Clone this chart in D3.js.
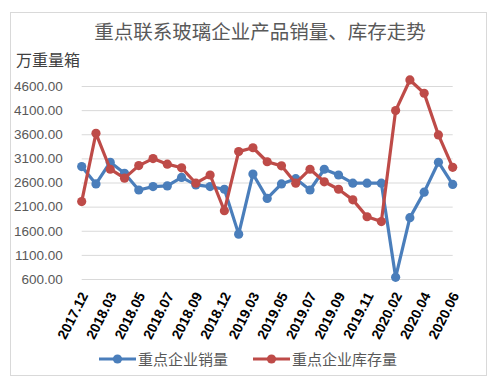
<!DOCTYPE html>
<html>
<head>
<meta charset="utf-8">
<script src="https://cdn.jsdelivr.net/npm/d3@7"></script>
<style>
  body { margin: 0; background: #fff; }
  svg { display: block; }
</style>
</head>
<body>
<svg id="chart"></svg>
<script>
// months as shown on the axis (jan+feb are reported together)
const months = [
  "2017.12", "2018.02", "2018.03", "2018.04", "2018.05", "2018.06", "2018.07",
  "2018.08", "2018.09", "2018.10", "2018.12", "2019.02", "2019.03", "2019.04",
  "2019.05", "2019.06", "2019.07", "2019.08", "2019.09", "2019.10", "2019.11",
  "2019.12", "2020.02", "2020.03", "2020.04", "2020.05", "2020.06"
]
const shownLabels = [
  "2017.12", "2018.03", "2018.05", "2018.07", "2018.09", "2018.12", "2019.03",
  "2019.05", "2019.07", "2019.09", "2019.11", "2020.02", "2020.04", "2020.06"
]
const sales = [
  2930, 2570, 3020, 2790, 2445, 2515, 2530, 2705, 2550, 2515, 2460, 1530, 2775,
  2270, 2570, 2680, 2445, 2875, 2755, 2585, 2585, 2585, 635, 1870, 2400, 3020, 2560
]
const stock = [
  2205, 3620, 2875, 2690, 2950, 3095, 2980, 2905, 2585, 2755, 2015, 3240, 3320,
  3030, 2945, 2585, 2875, 2615, 2460, 2240, 1890, 1790, 4090, 4725, 4450, 3585, 2915
]
const yTicks = [600, 1100, 1600, 2100, 2600, 3100, 3600, 4100, 4600]

const seriesNames = ["重点企业销量", "重点企业库存量"]
const seriesColors = ["#4a7ebb", "#be4b48"]

const W = 496, H = 388
const margin = { left: 81.7, right: 43.3, top: 86, bottom: 109 }

const svg = d3.select("#chart").attr("width", W).attr("height", H)

svg.append("rect")
  .attr("x", 10.5).attr("y", 12.5)
  .attr("width", 476).attr("height", 363)
  .attr("fill", "#fff").attr("stroke", "#d9d9d9")

const x = d3.scalePoint()
  .domain(months)
  .range([margin.left, W - margin.right])
  .padding(0)

const y = d3.scaleLinear()
  .domain([600, 4600])
  .range([H - margin.bottom, margin.top])

// title + unit
svg.append("text")
  .attr("x", 260).attr("y", 39)
  .attr("text-anchor", "middle")
  .attr("font-family", "Noto Sans CJK SC")
  .attr("font-size", 19.5)
  .attr("fill", "#595959")
  .text("重点联系玻璃企业产品销量、库存走势")

svg.append("text")
  .attr("x", 16).attr("y", 66)
  .attr("font-family", "Noto Sans CJK SC")
  .attr("font-size", 16)
  .attr("fill", "#404040")
  .text("万重量箱")

// gridlines + y labels
const yAxis = d3.axisLeft(y)
  .tickValues(yTicks)
  .tickSize(-(W - margin.left - margin.right))
  .tickPadding(19)
  .tickFormat(d3.format(".2f"))

const gy = svg.append("g")
  .attr("transform", "translate(" + margin.left + ",0)")
  .call(yAxis)
gy.select(".domain").remove()
gy.selectAll("line").attr("stroke", "#d9d9d9").attr("stroke-width", 1)
gy.selectAll("text")
  .attr("font-family", "Liberation Sans, Arial")
  .attr("font-size", 13.5)
  .attr("fill", "#595959")

// x labels, rotated
const xAxis = d3.axisBottom(x)
  .tickValues(shownLabels)
  .tickSize(0)
  .tickPadding(0)

const gx = svg.append("g")
  .attr("transform", "translate(0," + (H - margin.bottom) + ")")
  .call(xAxis)
gx.select(".domain").remove()
gx.selectAll("text")
  .attr("font-family", "Liberation Sans, Arial")
  .attr("font-size", 14)
  .attr("font-weight", "bold")
  .attr("fill", "#000")
  .attr("text-anchor", "end")
  .attr("dy", "0.35em")
  .attr("transform", "translate(2,14) rotate(-63)")

/*
  Lines + markers
*/
const line = d3.line()
  .x((d, i) => x(months[i]))
  .y((d) => y(d))

;[sales, stock].forEach((values, k) => {
  const g = svg.append("g")
  g.append("path")
    .datum(values)
    .attr("d", line)
    .attr("fill", "none")
    .attr("stroke", seriesColors[k])
    .attr("stroke-width", 3.2)
    .attr("stroke-linejoin", "round")
  g.selectAll("circle")
    .data(values)
    .enter()
    .append("circle")
    .attr("cx", (d, i) => x(months[i]))
    .attr("cy", (d) => y(d))
    .attr("r", 4.6)
    .attr("fill", seriesColors[k])
})

// legend
const legendX = [99, 253]
seriesNames.forEach((name, k) => {
  const g = svg.append("g").attr("transform", "translate(" + legendX[k] + ",359)")
  g.append("line")
    .attr("x1", 0).attr("x2", 37)
    .attr("stroke", seriesColors[k]).attr("stroke-width", 3.2)
  g.append("circle").attr("cx", 18.5).attr("r", 4.6).attr("fill", seriesColors[k])
  g.append("text")
    .attr("x", 39).attr("y", 5.5)
    .attr("font-family", "Noto Sans CJK SC")
    .attr("font-size", 15)
    .attr("fill", "#595959")
    .text(name)
})
</script>
</body>
</html>
